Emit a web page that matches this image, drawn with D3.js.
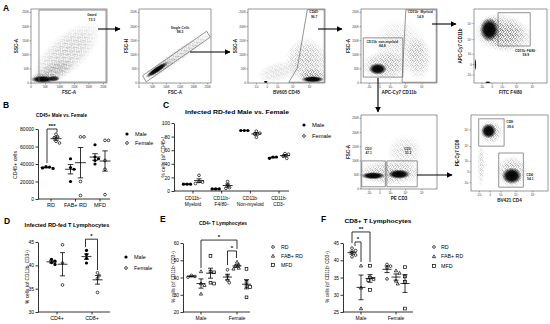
<!DOCTYPE html>
<html><head><meta charset="utf-8">
<script src="https://cdn.jsdelivr.net/npm/d3@7/dist/d3.min.js"></script>
<style>html,body{margin:0;padding:0;background:#fff;overflow:hidden}</style>
</head><body>
<svg id="c" width="550" height="324" font-family="Liberation Sans, Arial, sans-serif"></svg>
<script>
// ---------------- DATA ----------------
// Panel B
const bCats=["RD","FAB+ RD","MFD"];
const bMale=[[37000,35500,35000,36500],[46000,36000,34000,20000],[62000,48000,46000,44000,40000]];
const bFemale=[[74000,71000,70000,66000,64000],[71000,71000,20000,4000],[67000,67000,44000,34000,5000]];
const bYTicks=[0,20000,40000,60000,80000];
// Panel C
const cCats=[["CD11b{+}","Myeloid"],["CD11b{+}","F4/80{+}"],["CD11b{-}","Non-myeloid"],["CD11b{-}","CD3{+}"]];
const cMale=[[10,10,10],[3,3,3],[89,89,89],[48,50,50]];
const cFemale=[[23,14,13,11],[14,9,5,4],[88,85,84,79],[55,54,51,48]];
const cYTicks=[0,20,40,60,80,100];
// Panel D
const dCats=["CD4+","CD8+"];
const dMale=[[41.3,40.9,40.6,40.2],[43.2,42.3,41.5,40.5]];
const dFemale=[[44.4,40.5,35.8],[38.4,37.8,37.2,34.2]];
const dYTicks=[30,35,40,45];
// Panels E and F
const sexCats=["Male","Female"];
const dietGroups=["RD","FAB+ RD","MFD"];
const eRD=[[40.2,41.2,40.6],[44.5,41,38.5,37]];
const eFAB=[[43.5,36.5,35.5,30.5],[49,47.5,46.5,45.5,45]];
const eMFD=[[52.5,43.5,43,37,36.5],[45,37.5,35,34.5,28.5]];
const eYTicks=[20,30,40,50,60];
const fRD=[[43.5,42.8,42.2,41.5,41],[38.8,38.3,37.8,34.6]];
const fFAB=[[38.4,32,26],[37,36.3,34,33.2]];
const fMFD=[[38.4,35,34.6,34.2,31.4],[38,35.3,33.7,26]];
const fYTicks=[25,30,35,40,45];
// Flow cytometry axes
const linTickVals=[0,50000,100000,150000,200000,250000];
const linTickLabs=["0","50K","100K","150K","200K","250K"];
const logTickVals=[-1000,0,1000,10000,100000];
const logTickLabs=["-10³","0","10³","10⁴","10⁵"];
// Flow gates (axis fraction units) and populations
const flow1Gates=[[[0.105,0.013],[0.105,0.986],[0.987,0.986],[0.987,0.013]]];
const flow1Labels=[["Gated","73.3",0.8,0.9]];
const flow1Clouds=[[0.47,0.4,0.56,0.26,-42,0.85,'halo'],[0.28,0.14,0.32,0.13,-25,1,'halo'],[0.16,0.06,0.18,0.08,0,1,'halo'],[0.15,0.05,0.15,0.05,0,1,'core'],[0.3,0.06,0.08,0.04,0,0.85,'core']];
const flow2Gates=[[[0.05,0.1],[0.94,0.7],[0.99,0.62],[0.1,0.015]]];
const flow2Labels=[["Single Cells","98.3",0.57,0.73]];
const flow2Clouds=[[0.57,0.39,0.56,0.085,-34,0.9,'halo'],[0.3,0.2,0.26,0.07,-34,1,'halo'],[0.25,0.18,0.19,0.04,-34,1,'core']];
const flow3Gates=[[[0.53,0.01],[0.64,0.2],[0.77,0.99],[0.99,0.99],[0.99,0.01]]];
const flow3Labels=[["CD45{+}","96.7",0.86,0.94]];
const flow3Clouds=[[0.76,0.3,0.28,0.32,0,0.85,'halo'],[0.38,0.15,0.27,0.14,-15,0.55,'halo'],[0.85,0.1,0.2,0.1,0,1,'halo'],[0.84,0.05,0.15,0.045,0,1,'core'],[0.23,0.015,0.03,0.015,0,1,'core']];
const flow4Gates=[[[0.59,0.99],[0.99,0.99],[0.99,0.01],[0.54,0.01]],[[0.03,0.08],[0.03,0.61],[0.55,0.61],[0.55,0.08]]];
const flow4Labels=[["CD11b{+} Myeloid","14.9",0.78,0.94],["CD11b{-} non-myeloid","84.8",0.28,0.54]];
const flow4Clouds=[[0.32,0.24,0.32,0.2,0,0.95,'halo'],[0.75,0.34,0.18,0.3,0,0.75,'halo'],[0.5,0.55,0.36,0.32,0,0.4,'halo'],[0.22,0.19,0.12,0.08,0,1,'core']];
const flow5Gates=[[[0.33,0.5],[0.33,0.95],[0.77,0.95],[0.77,0.5]]];
const flow5Labels=[["CD11b{+}F4/80{+}","58.9",0.71,0.42]];
const flow5Clouds=[[0.36,0.69,0.36,0.26,0,1,'halo'],[0.5,0.62,0.32,0.22,0,0.75,'halo'],[0.24,0.72,0.18,0.2,0,1,'halo'],[0.21,0.72,0.13,0.16,0,1,'core'],[0.02,0.25,0.015,0.08,0,0.9,'core'],[0.19,0.01,0.04,0.015,0,1,'core']];
const flow6Gates=[[[0.01,0.03],[0.01,0.38],[0.32,0.38],[0.32,0.03]],[[0.34,0.03],[0.34,0.38],[0.74,0.38],[0.74,0.03]]];
const flow6Labels=[["CD3{-}","47.1",0.1,0.53],["CD3{+}","51.2",0.62,0.53]];
const flow6Clouds=[[0.38,0.22,0.46,0.17,0,0.95,'halo'],[0.58,0.5,0.24,0.24,0,0.5,'halo'],[0.16,0.18,0.16,0.05,0,1,'core'],[0.5,0.2,0.15,0.065,0,1,'core']];
const flow7Gates=[[[0.1,0.59],[0.1,0.95],[0.43,0.95],[0.43,0.59]],[[0.36,0.05],[0.36,0.5],[0.68,0.5],[0.68,0.05]]];
const flow7Labels=[["CD8{+}","39.6",0.51,0.89],["CD4{+}","54.1",0.77,0.2]];
const flow7Clouds=[[0.26,0.78,0.16,0.16,0,1,'halo'],[0.53,0.25,0.2,0.22,0,1,'halo'],[0.13,0.34,0.05,0.3,0,0.6,'halo'],[0.23,0.79,0.1,0.1,0,1,'core'],[0.53,0.2,0.13,0.11,0,1,'core']];

// ---------------- DRAWING ----------------
const FONT='Liberation Sans, Arial, sans-serif';
const svg=d3.select('#c');
const defs=svg.append('defs');
const pat=defs.append('pattern').attr('id','stip').attr('patternUnits','userSpaceOnUse').attr('width',5).attr('height',5);
[[0.5,0.7],[2.6,0.3],[4.1,1.4],[1.5,2.0],[3.3,2.6],[0.3,3.6],[2.2,4.0],[4.4,3.9],[1.1,4.7],[3.6,0.9]].forEach(d=>pat.append('circle').attr('cx',d[0]).attr('cy',d[1]).attr('r',0.42).attr('fill','#1a1a1a'));
const fg=defs.append('radialGradient').attr('id','fadeG');
[[0,'#fff'],[0.55,'#bbb'],[1,'#000']].forEach(s=>fg.append('stop').attr('offset',s[0]).attr('stop-color',s[1]));
defs.append('mask').attr('id','fade').attr('maskContentUnits','objectBoundingBox')
  .append('rect').attr('width',1).attr('height',1).attr('fill','url(#fadeG)');
const cgr=defs.append('radialGradient').attr('id','coreG');
[[0,1],[0.55,0.92],[1,0]].forEach(s=>cgr.append('stop').attr('offset',s[0]).attr('stop-color','#000').attr('stop-opacity',s[1]));
const mk=defs.append('marker').attr('id','arr').attr('viewBox','0 0 10 10').attr('refX',9).attr('refY',5)
  .attr('markerWidth',6).attr('markerHeight',6).attr('markerUnits','userSpaceOnUse').attr('orient','auto');
mk.append('path').attr('d','M0,0L10,5L0,10Z').attr('fill','#000');

function rich(t,str){
  str.split(/(\{[^}]*\})/).forEach(p=>{
    if(!p) return;
    if(p[0]==='{') t.append('tspan').attr('baseline-shift','35%').attr('font-size','72%').text(p.slice(1,-1));
    else t.append('tspan').text(p);
  });
  return t;
}

function flow(p){
  const g=svg.append('g');
  const w=p.x1-p.x0,h=p.y1-p.y0;
  const nx=d3.scaleLinear().domain([0,1]).range([p.x0,p.x1]);
  const ny=d3.scaleLinear().domain([0,1]).range([p.y1,p.y0]);
  const mkS=(t,r)=>t==='log'?d3.scaleSymlog().constant(300).domain([-3800,790000]).range(r):d3.scaleLinear().domain([0,262144]).range(r);
  const sx=mkS(p.xType,[p.x0,p.x1]), sy=mkS(p.yType,[p.y1,p.y0]);
  defs.append('clipPath').attr('id','clip'+p.id).append('rect').attr('x',p.x0).attr('y',p.y0).attr('width',w).attr('height',h);
  const cg=g.append('g').attr('clip-path',`url(#clip${p.id})`);
  p.clouds.forEach(c=>{
    const [cx,cy,rx,ry,ang,op,kind]=c;
    cg.append('ellipse').attr('cx',nx(cx)).attr('cy',ny(cy)).attr('rx',rx*w).attr('ry',ry*h)
      .attr('transform',`rotate(${ang},${nx(cx)},${ny(cy)})`)
      .attr('fill',kind==='core'?'url(#coreG)':'url(#stip)')
      .attr('mask',kind==='core'?null:'url(#fade)')
      .attr('opacity',op);
  });
  g.append('rect').attr('x',p.x0).attr('y',p.y0).attr('width',w).attr('height',h).attr('fill','none').attr('stroke','#555').attr('stroke-width',0.6);
  const xv=p.xType==='log'?logTickVals:linTickVals, xl=p.xType==='log'?logTickLabs:linTickLabs;
  const yv=p.yType==='log'?logTickVals:linTickVals, yl=p.yType==='log'?logTickLabs:linTickLabs;
  xv.forEach((v,i)=>{
    g.append('line').attr('x1',sx(v)).attr('x2',sx(v)).attr('y1',p.y1).attr('y2',p.y1+1.5).attr('stroke','#555').attr('stroke-width',0.5);
    g.append('text').attr('x',sx(v)).attr('y',p.y1+4.6).attr('text-anchor','middle').attr('font-size',2.8).attr('fill','#333').text(xl[i]);
  });
  yv.forEach((v,i)=>{
    g.append('line').attr('x1',p.x0-1.5).attr('x2',p.x0).attr('y1',sy(v)).attr('y2',sy(v)).attr('stroke','#555').attr('stroke-width',0.5);
    g.append('text').attr('x',p.x0-2.2).attr('y',sy(v)+1).attr('text-anchor','end').attr('font-size',2.8).attr('fill','#333').text(yl[i]);
  });
  p.gates.forEach(gt=>{
    g.append('path').attr('d','M'+gt.map(d=>nx(d[0])+','+ny(d[1])).join('L')+'Z').attr('fill','none').attr('stroke','#666').attr('stroke-width',0.7);
  });
  p.labels.forEach(l=>{
    rich(g.append('text').attr('x',nx(l[2])).attr('y',ny(l[3])).attr('text-anchor','middle').attr('font-size',3.3).attr('font-weight','bold').attr('fill','#222'),l[0]);
    g.append('text').attr('x',nx(l[2])).attr('y',ny(l[3])+4.2).attr('text-anchor','middle').attr('font-size',3.3).attr('font-weight','bold').attr('fill','#222').text(l[1]);
  });
  g.append('text').attr('x',(p.x0+p.x1)/2).attr('y',p.y1+11).attr('text-anchor','middle').attr('font-size',4.6).attr('font-weight','bold').attr('fill','#222').text(p.xlab);
  g.append('text').attr('transform',`translate(${p.ylx},${(p.y0+p.y1)/2}) rotate(-90)`).attr('text-anchor','middle').attr('font-size',4.6).attr('font-weight','bold').attr('fill','#222').text(p.ylab);
}

flow({id:1,x0:31,x1:107,y0:9,y1:83,xType:'lin',yType:'lin',xlab:'FSC-A',ylab:'SSC-A',ylx:18,gates:flow1Gates,labels:flow1Labels,clouds:flow1Clouds});
flow({id:2,x0:139,x1:211,y0:9,y1:83,xType:'lin',yType:'lin',xlab:'FSC-A',ylab:'FSC-H',ylx:128,gates:flow2Gates,labels:flow2Labels,clouds:flow2Clouds});
flow({id:3,x0:248,x1:325,y0:9,y1:83,xType:'log',yType:'lin',xlab:'BV605 CD45',ylab:'SSC-A',ylx:237,gates:flow3Gates,labels:flow3Labels,clouds:flow3Clouds});
flow({id:4,x0:361,x1:437,y0:9,y1:83,xType:'log',yType:'lin',xlab:'APC-Cy7 CD11b',ylab:'FSC-A',ylx:350,gates:flow4Gates,labels:flow4Labels,clouds:flow4Clouds});
flow({id:5,x0:474,x1:547,y0:9,y1:83,xType:'log',yType:'log',xlab:'FITC F4/80',ylab:'APC-Cy7 CD11b',ylx:462,gates:flow5Gates,labels:flow5Labels,clouds:flow5Clouds});
flow({id:6,x0:361,x1:437,y0:115,y1:189,xType:'log',yType:'lin',xlab:'PE CD3',ylab:'FSC-A',ylx:350,gates:flow6Gates,labels:flow6Labels,clouds:flow6Clouds});
flow({id:7,x0:471,x1:548,y0:115,y1:191,xType:'log',yType:'log',xlab:'BV421 CD4',ylab:'PE-Cy7 CD8',ylx:459,gates:flow7Gates,labels:flow7Labels,clouds:flow7Clouds});

const arrows=[[98,29,120,29],[190,52,230,52],[318,29,342,29],[432,24,456,24],[378,78,378,112],[417,175,452,175]];
arrows.forEach(a=>svg.append('line').attr('x1',a[0]).attr('y1',a[1]).attr('x2',a[2]).attr('y2',a[3]).attr('stroke','#000').attr('stroke-width',1.1).attr('marker-end','url(#arr)'));

// ---- dot plots ----
function marker(g,type,cx,cy,r){
  if(type==='dot') g.append('circle').attr('cx',cx).attr('cy',cy).attr('r',r).attr('fill','#000');
  else if(type==='circ') g.append('circle').attr('cx',cx).attr('cy',cy).attr('r',r*0.85).attr('fill','#fff').attr('stroke','#000').attr('stroke-width',0.7);
  else if(type==='tri') g.append('path').attr('d',`M${cx},${cy-r*1.05}L${cx+r},${cy+r*0.75}L${cx-r},${cy+r*0.75}Z`).attr('fill','#fff').attr('stroke','#000').attr('stroke-width',0.7);
  else g.append('rect').attr('x',cx-r*0.85).attr('y',cy-r*0.85).attr('width',r*1.7).attr('height',r*1.7).attr('fill','#fff').attr('stroke','#000').attr('stroke-width',0.7);
}
function swarm(vals,y,r){
  const placed=[],out=[];
  const order=vals.map((v,i)=>i).sort((a,b)=>vals[b]-vals[a]);
  order.forEach(i=>{
    const py=y(vals[i]);let dx=0;
    const cands=[0];for(let k=1;k<8;k++)cands.push(k*r*1.1,-k*r*1.1);
    for(const c of cands){if(placed.every(p=>Math.hypot(p[0]-c,p[1]-py)>=2*r*0.95)){dx=c;break;}}
    placed.push([dx,py]);out[i]=[dx,py];
  });
  return out;
}
function fitText(t,len,cx,cy){
  const L=t.node().getComputedTextLength();
  const s=len/L;
  t.attr('x',0).attr('y',0).attr('transform',`translate(${cx},${cy}) scale(${s},1)`);
}
function panel(o){
  const g=svg.append('g');
  const y=d3.scaleLinear().domain(o.yDomain).range([o.y1,o.y0]);
  const xc=d3.scalePoint().domain(d3.range(o.cats.length)).range(o.xRange);
  const xg=d3.scalePoint().domain(d3.range(o.groups.length)).range(o.gRange);
  const X=(c,gi)=>xc(c)+xg(gi);
  const ay=g.append('g').attr('transform',`translate(${o.axisX},0)`)
    .call(d3.axisLeft(y).tickValues(o.yTicks).tickSize(2.5).tickSizeOuter(0).tickPadding(1.5).tickFormat(d=>String(d)));
  ay.attr('font-family',FONT).attr('font-size',o.tickFs);
  ay.selectAll('path,line').attr('stroke-width',0.8);
  g.append('line').attr('x1',o.axisX).attr('x2',o.axisEnd).attr('y1',o.y1).attr('y2',o.y1).attr('stroke','#000').attr('stroke-width',0.8);
  o.cats.forEach((c,i)=>{
    g.append('line').attr('x1',xc(i)).attr('x2',xc(i)).attr('y1',o.y1).attr('y2',o.y1+2.5).attr('stroke','#000').attr('stroke-width',0.8);
    (Array.isArray(c)?c:[c]).forEach((ln,k)=>rich(g.append('text').attr('x',xc(i)).attr('y',o.y1+o.labDy+k*o.labLh).attr('text-anchor','middle').attr('font-size',o.catFs),ln));
  });
  o.values.forEach((cat,ci)=>cat.forEach((vals,gi)=>{
    const cx=X(ci,gi);
    const pos=swarm(vals,y,o.r);
    vals.forEach((v,k)=>marker(g,o.groups[gi],cx+pos[k][0],pos[k][1],o.r));
    const m=d3.mean(vals),s=d3.deviation(vals)/Math.sqrt(vals.length);
    const ln=(x1,x2,y1,y2)=>g.append('line').attr('x1',x1).attr('x2',x2).attr('y1',y1).attr('y2',y2).attr('stroke','#000').attr('stroke-width',0.8);
    ln(cx-o.meanW/2,cx+o.meanW/2,y(m),y(m));
    ln(cx,cx,y(m-s),y(m+s));
    ln(cx-o.semW/2,cx+o.semW/2,y(m-s),y(m-s));
    ln(cx-o.semW/2,cx+o.semW/2,y(m+s),y(m+s));
  }));
  (o.sig||[]).forEach(s=>{
    const xa=X(...s.a)+(s.dxa||0),xb=X(...s.b)+(s.dxb||0),yt=y(s.top);
    g.append('path').attr('d',`M${xa},${y(s.la)}V${yt}H${xb}V${y(s.lb)}`).attr('fill','none').attr('stroke','#000').attr('stroke-width',0.8);
    g.append('text').attr('x',(xa+xb)/2).attr('y',yt-1.3).attr('text-anchor','middle').attr('font-size',6).attr('font-weight','bold').text(s.label);
  });
  const tt=rich(g.append('text').attr('text-anchor','middle').attr('font-size',o.title.fs).attr('font-weight','bold'),o.title.text);
  fitText(tt,o.title.len,o.title.x,o.title.y);
  rich(g.append('text').attr('transform',`translate(${o.ylab.x},${o.ylab.y}) rotate(-90)`).attr('text-anchor','middle').attr('font-size',o.ylab.fs),o.ylab.text);
  o.legend.labels.forEach((l,i)=>{
    const ly=o.legend.y+i*o.legend.dy;
    marker(g,o.groups[i],o.legend.x,ly,o.r);
    g.append('text').attr('x',o.legend.tx).attr('y',ly+1.9).attr('font-size',o.legend.fs).text(l);
  });
}

panel({yDomain:[0,80000],yTicks:bYTicks,y0:129,y1:199,axisX:38,axisEnd:110,xRange:[51,100],gRange:[-5,5],
  cats:bCats,groups:['dot','circ'],values:bCats.map((c,i)=>[bMale[i],bFemale[i]]),r:1.6,meanW:11,semW:5.5,
  tickFs:5,catFs:5.5,labDy:7.5,labLh:6,
  sig:[{a:[0,0],b:[0,1],top:80000,la:41000,lb:76000,label:'***',dxa:1,dxb:1}],
  title:{text:'CD45+ Male vs. Female',x:61.5,y:117,len:51,fs:6},
  ylab:{text:'CD45+ cells',x:17,y:165,fs:5.2},
  legend:{labels:['Male','Female'],x:127,y:134,dy:9,tx:135,fs:5.5}});

panel({yDomain:[0,100],yTicks:cYTicks,y0:123,y1:191,axisX:174,axisEnd:289,xRange:[193,279],gRange:[-6,6],
  cats:cCats,groups:['dot','circ'],values:cCats.map((c,i)=>[cMale[i],cFemale[i]]),r:1.6,meanW:10,semW:5,
  tickFs:5,catFs:4.8,labDy:9,labLh:5.6,
  title:{text:'Infected RD-fed Male vs. Female',x:237,y:114,len:104,fs:6.2},
  ylab:{text:'% cells (of CD45{+})',x:165,y:157,fs:5},
  legend:{labels:['Male','Female'],x:304,y:125,dy:11,tx:312,fs:5.8}});

panel({yDomain:[30,45],yTicks:dYTicks,y0:242,y1:312,axisX:38,axisEnd:110,xRange:[57,92],gRange:[-5.5,5.5],
  cats:dCats,groups:['dot','circ'],values:dCats.map((c,i)=>[dMale[i],dFemale[i]]),r:1.6,meanW:10,semW:5,
  tickFs:5,catFs:5.3,labDy:8,labLh:6,
  sig:[{a:[1,0],b:[1,1],top:45.6,la:43.9,lb:39,label:'*',dxa:-1,dxb:0}],
  title:{text:'Infected RD-fed T Lymphocytes',x:67,y:227,len:85,fs:6},
  ylab:{text:'% cells (of CD11b{-} CD3{+})',x:29,y:277,fs:4.8},
  legend:{labels:['Male','Female'],x:126,y:257,dy:11,tx:134,fs:5.5}});

panel({yDomain:[20,60],yTicks:eYTicks,y0:243,y1:312,axisX:183,axisEnd:250,xRange:[201,237],gRange:[-9.5,9.5],
  cats:sexCats,groups:['circ','tri','sq'],values:sexCats.map((c,i)=>[eRD[i],eFAB[i],eMFD[i]]),r:1.6,meanW:9,semW:5,
  tickFs:4.8,catFs:5,labDy:8,labLh:6,
  sig:[{a:[0,1],b:[1,1],top:61.7,la:45.5,lb:56.5,label:'*'},{a:[1,0],b:[1,1],top:55.4,la:47.2,lb:51.3,label:'*',dxb:-0.5}],
  title:{text:'CD4{+} T Lymphocytes',x:223,y:225,len:48,fs:5.6},
  ylab:{text:'% cells (of CD11b{-} CD3{+})',x:175,y:277,fs:4.6},
  legend:{labels:dietGroups,x:273,y:247,dy:9,tx:281,fs:5.2}});

panel({yDomain:[25,45],yTicks:fYTicks,y0:243,y1:312,axisX:343,axisEnd:413,xRange:[361,396],gRange:[-9,9],
  cats:sexCats,groups:['circ','tri','sq'],values:sexCats.map((c,i)=>[fRD[i],fFAB[i],fMFD[i]]),r:1.6,meanW:9,semW:5,
  tickFs:4.8,catFs:5,labDy:8,labLh:6,
  sig:[{a:[0,0],b:[0,2],top:48.2,la:45,lb:39.5,label:'**'},{a:[0,0],b:[0,1],top:45.3,la:44.1,lb:39.5,label:'*',dxa:3}],
  title:{text:'CD8+ T Lymphocytes',x:378,y:223,len:67,fs:6.2},
  ylab:{text:'% cells (of CD11b{-} CD3{+})',x:329,y:277,fs:4.6},
  legend:{labels:dietGroups,x:434,y:247,dy:9.5,tx:441,fs:5.3}});

// panel letters
[["A",3,11],["B",3,108],["C",163,108],["D",4,224],["E",160,222],["F",321,222]].forEach(l=>
  svg.append('text').attr('x',l[1]).attr('y',l[2]).attr('font-size',8.5).attr('font-weight','bold').text(l[0]));
</script></body></html>
